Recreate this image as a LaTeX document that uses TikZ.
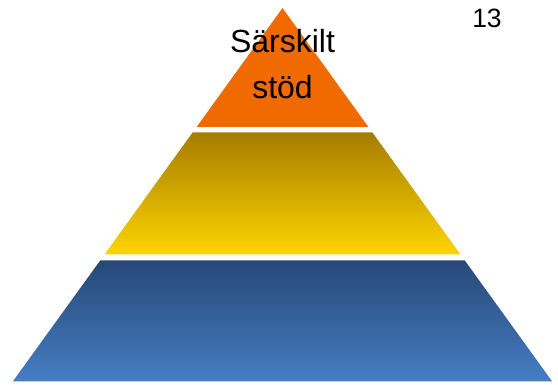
\documentclass[tikz,border=0pt]{standalone}
\usepackage{fontspec}
\setmainfont{Liberation Sans}
\definecolor{topOrange}{RGB}{240,106,0}
\definecolor{goldDark}{RGB}{166,124,0}
\definecolor{goldLight}{RGB}{253,213,0}
\definecolor{blueDark}{RGB}{38,72,118}
\definecolor{blueLight}{RGB}{70,126,196}
\begin{document}
\begin{tikzpicture}[x=1pt,y=1pt,
  lbl/.style={anchor=base,inner sep=0pt,font=\fontsize{32}{38}\selectfont}]
\useasboundingbox (0,0) rectangle (558,385);
\fill[topOrange] (196.6,258) -- (282.5,377) -- (368.4,258) -- cycle;
\shade[top color=goldDark,bottom color=goldLight] (192.6,252.5) -- (372.4,252.5) -- (460.5,130.5) -- (104.5,130.5) -- cycle;
\shade[top color=blueDark,bottom color=blueLight] (100.2,124.5) -- (464.8,124.5) -- (552.2,3.5) -- (12.8,3.5) -- cycle;
\node[lbl] (line1) at (282.5,332) {Särskilt};
\node[lbl] (line2) at (282.5,286) {stöd};
\node[lbl,font=\fontsize{26.5}{32}\selectfont] (pagenum) at (487,357) {13};
\end{tikzpicture}
\end{document}
